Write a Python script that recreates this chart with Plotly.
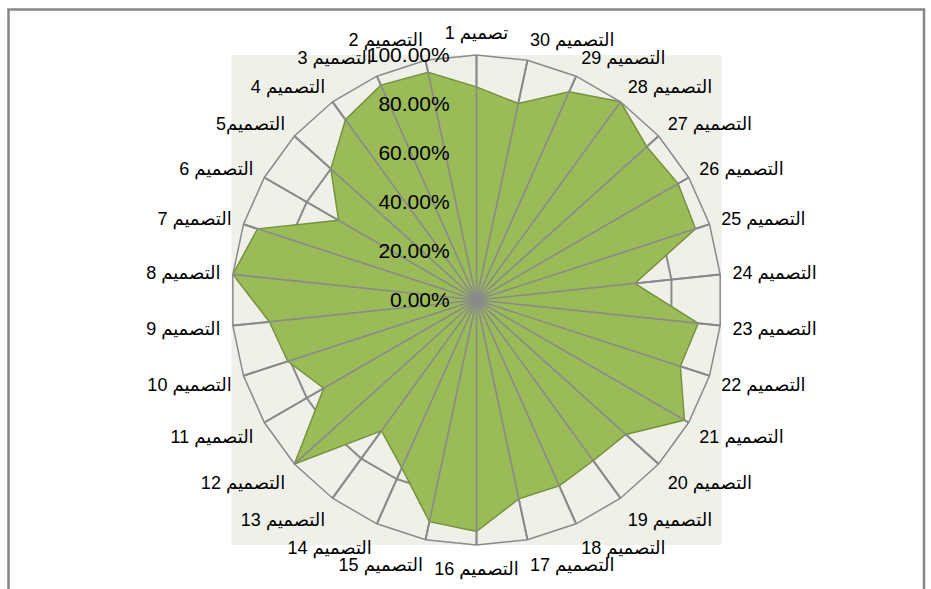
import plotly.graph_objects as go

# ---- data ----
categories = [
    "تصميم 1", "التصميم 2", "التصميم 3", "التصميم 4", "التصميم5",
    "التصميم 6", "التصميم 7", "التصميم 8", "التصميم 9", "التصميم 10",
    "التصميم 11", "التصميم 12", "التصميم 13", "التصميم 14", "التصميم 15",
    "التصميم 16", "التصميم 17", "التصميم 18", "التصميم 19", "التصميم 20",
    "التصميم 21", "التصميم 22", "التصميم 23", "التصميم 24", "التصميم 25",
    "التصميم 26", "التصميم 27", "التصميم 28", "التصميم 29", "التصميم 30",
]
values = [
    0.87, 0.95, 0.96, 0.91, 0.80, 0.65, 0.94, 1.00, 0.85, 0.81,
    0.72, 1.00, 0.66, 0.75, 0.925, 0.945, 0.83, 0.83, 0.81, 0.82,
    0.98, 0.875, 0.91, 0.65, 0.94, 0.95, 0.935, 1.00, 0.93, 0.82,
]
radial_ticks = [0.0, 0.2, 0.4, 0.6, 0.8, 1.0]

W, H = 931, 589
CX, CY, R = 476.5, 300, 245
GRID = "#8a8a8a"
BG = "#eff1e9"
FONT = "Liberation Sans, Arial, DejaVu Sans, sans-serif"

dom_x = [(CX - R) / W, (CX + R) / W]
dom_y = [1 - (CY + R) / H, 1 - (CY - R) / H]

fig = go.Figure()

# filled series
fig.add_trace(go.Scatterpolar(
    r=values + values[:1],
    theta=categories + categories[:1],
    mode="lines",
    fill="toself",
    fillcolor="#9bbb59",
    line=dict(color="#76923c", width=1.5),
    hoverinfo="skip",
    showlegend=False,
))

# spokes drawn above the fill (as in the reference)
sp_r, sp_t = [], []
for c in categories:
    sp_r += [radial_ticks[0], radial_ticks[-1], None]
    sp_t += [c, c, None]
fig.add_trace(go.Scatterpolar(
    r=sp_r, theta=sp_t, mode="lines",
    line=dict(color=GRID, width=1.6),
    hoverinfo="skip", showlegend=False, connectgaps=False,
))

fig.update_layout(
    width=W, height=H,
    margin=dict(l=0, r=0, t=0, b=0),
    paper_bgcolor="white",
    font=dict(family=FONT, color="black"),
    polar=dict(
        domain=dict(x=dom_x, y=dom_y),
        gridshape="linear",
        bgcolor=BG,
        radialaxis=dict(
            range=[radial_ticks[0], radial_ticks[-1]],
            tickvals=radial_ticks,
            tickformat=".2%",
            angle=90,
            side="counterclockwise",
            tickangle=90,
            ticks="outside",
            ticklen=19,
            tickcolor="rgba(0,0,0,0)",
            showline=False,
            gridcolor=GRID,
            gridwidth=1.5,
            tickfont=dict(size=21, family=FONT, color="black"),
        ),
        angularaxis=dict(
            type="category",
            categoryarray=categories,
            direction="counterclockwise",
            rotation=90,
            ticks="outside",
            ticklen=8,
            tickcolor="rgba(0,0,0,0)",
            showline=True,
            linecolor=GRID,
            linewidth=1.5,
            gridcolor=GRID,
            gridwidth=1.5,
            tickfont=dict(size=18, family=FONT, color="black"),
        ),
    ),
    shapes=[
        dict(type="rect", xref="paper", yref="paper", layer="below",
             x0=dom_x[0], x1=dom_x[1], y0=dom_y[0], y1=dom_y[1],
             fillcolor=BG, line=dict(width=0)),
        dict(type="rect", xref="paper", yref="paper", layer="above",
             x0=8.5 / W, x1=924 / W, y0=-0.05, y1=1 - 9.5 / H,
             fillcolor="rgba(0,0,0,0)", line=dict(color="#868686", width=2.5)),
    ],
)

fig.write_html("out.html")
